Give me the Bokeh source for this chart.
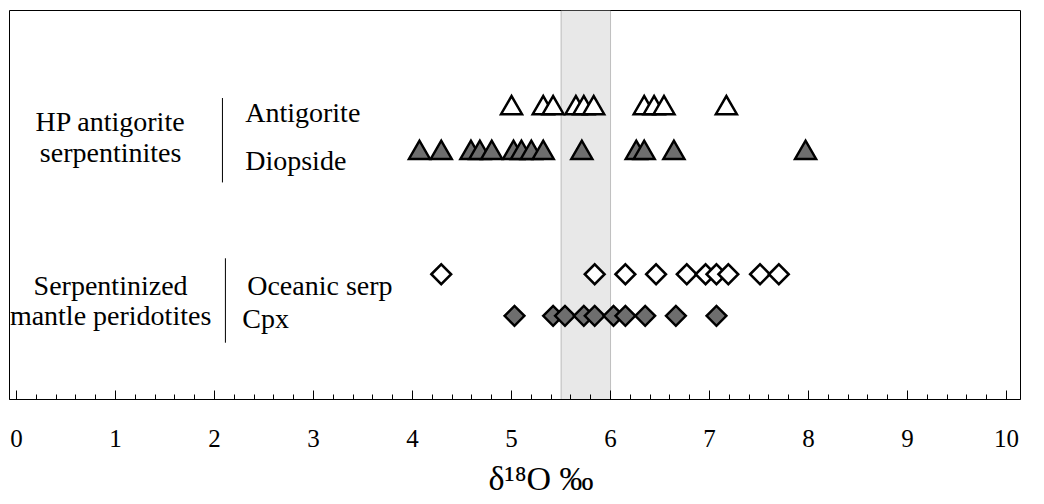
import math
from bokeh.plotting import figure
from bokeh.models import Range1d, LinearAxis, SingleIntervalTicker, BoxAnnotation, Label, Title
from bokeh.embed import file_html
from bokeh.resources import INLINE

# ---- data (delta 18O, per mil) ----
antigorite = [5.00, 5.32, 5.42, 5.65, 5.73, 5.83, 6.34, 6.44, 6.54, 7.17]
diopside = [4.07, 4.29, 4.59, 4.68, 4.80, 5.02, 5.10, 5.20, 5.32, 5.71, 6.26, 6.34, 6.64, 7.97]
oceanic_serp = [4.29, 5.84, 6.15, 6.46, 6.77, 6.96, 7.07, 7.19, 7.51, 7.70]
cpx = [5.03, 5.42, 5.54, 5.73, 5.84, 6.03, 6.15, 6.35, 6.66, 7.07]
mantle_range = [5.5, 6.0]

groups = ["HP antigorite\nserpentinites", "Serpentinized\nmantle peridotites"]
minerals = ["Antigorite", "Diopside", "Oceanic serp", "Cpx"]
x_title = "δ¹⁸O ‰"

# ---- layout (positions only) ----
ROW_Y = [7.49, 6.34, 3.22, 2.15]
FONT = "Liberation Serif"

p = figure(width=1044, height=504,
           x_range=Range1d(-0.071, 10.141), y_range=Range1d(0, 10),
           output_backend="svg", toolbar_location=None,
           x_axis_location=None, y_axis_location=None,
           min_border_left=9, min_border_right=24, min_border_top=10, min_border_bottom=103)
p.grid.grid_line_color = None
p.outline_line_color = "black"
p.outline_line_width = 1
p.background_fill_color = "white"
p.border_fill_color = "white"

ax = LinearAxis(ticker=SingleIntervalTicker(interval=1, num_minor_ticks=5))
ax.major_tick_in = 9
ax.major_tick_out = 0
ax.minor_tick_in = 5
ax.minor_tick_out = 0
ax.major_label_standoff = 30
ax.major_label_text_font = FONT
ax.major_label_text_font_size = "25px"
ax.major_label_text_color = "black"
ax.axis_line_color = "black"
ax.major_tick_line_color = "black"
ax.minor_tick_line_color = "black"
p.add_layout(ax, "below")

t = Title(text=x_title, align="left", offset=479, text_font=FONT, text_font_size="34px",
          text_font_style="normal", text_color="black", standoff=16)
p.add_layout(t, "below")

band = BoxAnnotation(left=mantle_range[0], right=mantle_range[1],
                     fill_color="#e8e8e8", fill_alpha=1.0,
                     line_color="#444444", line_width=1, level="underlay")
p.add_layout(band)

# separators
p.segment(x0=[2.08, 2.11], y0=[7.75, 3.63], x1=[2.08, 2.11], y1=[5.58, 1.46],
          line_color="black", line_width=1)

# markers
p.scatter(antigorite, [ROW_Y[0]] * len(antigorite), marker="triangle", size=21,
          fill_color="white", line_color="black", line_width=2.5, line_join="miter")
p.scatter(diopside, [ROW_Y[1]] * len(diopside), marker="triangle", size=21,
          fill_color="#6e6e6e", line_color="black", line_width=2.5, line_join="miter")
p.scatter(oceanic_serp, [ROW_Y[2]] * len(oceanic_serp), marker="square", angle=math.pi / 4, size=14,
          fill_color="white", line_color="black", line_width=2.5, line_join="miter")
p.scatter(cpx, [ROW_Y[3]] * len(cpx), marker="square", angle=math.pi / 4, size=14,
          fill_color="#6e6e6e", line_color="black", line_width=2.5, line_join="miter")

# group labels
g_pos = [(0.95, [7.14, 6.34]), (0.95, [2.92, 2.15])]
for name, (gx, gys) in zip(groups, g_pos):
    for line, gy in zip(name.split("\n"), gys):
        p.add_layout(Label(x=gx, y=gy, text=line, text_font=FONT, text_font_size="28px",
                           text_align="center", text_baseline="middle", text_color="black"))

m_pos = [(2.31, 7.37), (2.31, 6.14), (2.33, 2.94), (2.28, 2.07)]
for name, (mx, my) in zip(minerals, m_pos):
    p.add_layout(Label(x=mx, y=my, text=name, text_font=FONT, text_font_size="28px",
                       text_align="left", text_baseline="middle", text_color="black"))

open("out.html", "w").write(file_html(p, INLINE))
